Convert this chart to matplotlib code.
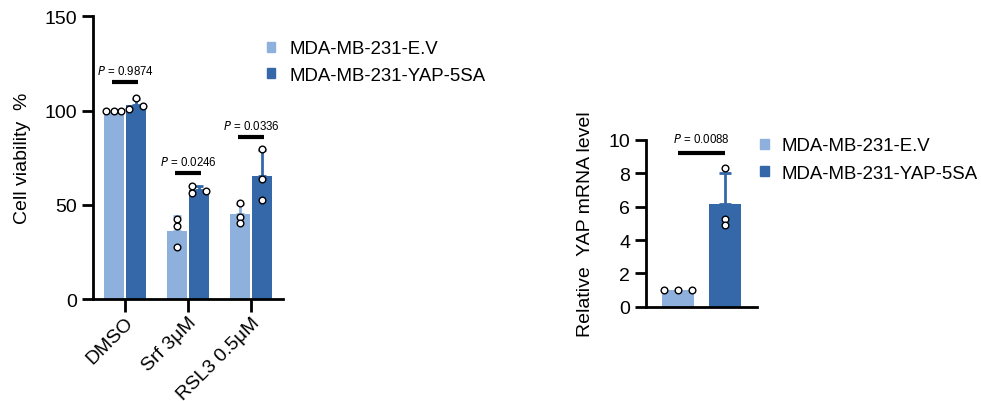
import matplotlib
matplotlib.use("Agg")
import matplotlib.pyplot as plt
import numpy as np
from matplotlib.patches import Patch

plt.rcParams['font.family'] = ['Liberation Sans', 'DejaVu Sans']

# ---------------- data ----------------
groups = ["DMSO", "Srf 3μM", "RSL3 0.5μM"]
series_names = ["MDA-MB-231-E.V", "MDA-MB-231-YAP-5SA"]
ev_points = [[100.0, 100.0, 100.0], [42.4, 38.6, 27.4], [51.1, 43.3, 40.2]]
yap_points = [[106.5, 100.8, 102.4], [60.1, 56.1, 57.3], [79.8, 63.5, 52.5]]
p_labels = ["0.9874", "0.0246", "0.0336"]
p_line_y = [115, 66.7, 86.1]

mrna_ev = [1.0, 1.0, 1.0]
mrna_yap = [8.32, 5.26, 4.9]
mrna_p = "0.0088"
mrna_line_y = 9.2

# ---------------- style ----------------
c_light = "#8EB0DD"
c_dark = "#3468A8"
lw = 2.0
fs = 14
fs_leg = 13.4

fig = plt.figure(figsize=(9.81, 4.02), dpi=100)

def style_axes(ax):
    for s in ["top", "right"]:
        ax.spines[s].set_visible(False)
    for s in ["left", "bottom"]:
        ax.spines[s].set_linewidth(lw)
    ax.tick_params(width=lw, length=8, labelsize=fs, direction="out")

def draw_points(ax, x, vals, offs):
    ax.plot(np.array([x] * len(vals)) + np.array(offs), vals, "o", ms=4.8,
            mfc="white", mec="black", mew=1.0, zorder=5, clip_on=False)

# ---------- left chart ----------
ax1 = fig.add_axes([0.0948, 0.2537, 0.1937, 0.703])
style_axes(ax1)
x = np.arange(len(groups))
bw = 0.32
off = 0.175
ev_mean = [np.mean(v) for v in ev_points]
yap_mean = [np.mean(v) for v in yap_points]
ev_sd = [np.std(v, ddof=1) for v in ev_points]
yap_sd = [np.std(v, ddof=1) for v in yap_points]
ax1.bar(x - off, ev_mean, bw, color=c_light, zorder=2)
ax1.bar(x + off, yap_mean, bw, color=c_dark, zorder=2)
ax1.errorbar(x - off, ev_mean, yerr=[np.zeros(3), ev_sd], fmt="none", ecolor=c_light,
             elinewidth=2, capsize=3, capthick=2, zorder=3)
ax1.errorbar(x + off, yap_mean, yerr=[np.zeros(3), yap_sd], fmt="none", ecolor=c_dark,
             elinewidth=2, capsize=3, capthick=2, zorder=3)
ev_offs = [[-0.12, 0.0, 0.11], [0.0, 0.0, 0.0], [0.0, 0.0, 0.0]]
yap_offs = [[0.0, -0.11, 0.11], [-0.11, -0.11, 0.11], [0.0, 0.0, 0.0]]
for i in range(len(groups)):
    draw_points(ax1, x[i] - off, ev_points[i], ev_offs[i])
    draw_points(ax1, x[i] + off, yap_points[i], yap_offs[i])
    ax1.plot([x[i] - 0.2, x[i] + 0.2], [p_line_y[i]] * 2, color="black", lw=3,
             solid_capstyle="butt")
    ax1.text(x[i], p_line_y[i] + 2.6, r"$\it{P}$ = " + p_labels[i], ha="center",
             va="bottom", fontsize=8.3)
ax1.set_xlim(-0.508, 2.508)
ax1.set_ylim(0, 150)
ax1.set_yticks([0, 50, 100, 150])
ax1.set_xticks(x)
ax1.set_xticklabels(groups, rotation=45, ha="right", rotation_mode="anchor")
ax1.tick_params(axis="x", length=9, pad=1.5)
ax1.set_ylabel("Cell viability  %", fontsize=fs, labelpad=10)

handles = [Patch(color=c_light), Patch(color=c_dark)]
fig.legend(handles, series_names, loc="upper left", bbox_to_anchor=(0.272, 0.897),
           frameon=False, fontsize=fs_leg, handlelength=0.45, handleheight=0.45,
           handletextpad=0.75, labelspacing=0.5, borderaxespad=0, borderpad=0)

# ---------- right chart ----------
ax2 = fig.add_axes([0.6585, 0.2346, 0.1131, 0.4147])
style_axes(ax2)
xm = np.array([0, 1])
means = [np.mean(mrna_ev), np.mean(mrna_yap)]
sds = [np.std(mrna_ev, ddof=1), np.std(mrna_yap, ddof=1)]
ax2.bar(xm, means, 0.68, color=[c_light, c_dark], zorder=2)
ax2.errorbar([1], [means[1]], yerr=[[0], [sds[1]]], fmt="none", ecolor=c_dark,
             elinewidth=2, capsize=4, capthick=2, zorder=3)
draw_points(ax2, 0, mrna_ev, [-0.3, 0.0, 0.3])
draw_points(ax2, 1, mrna_yap, [0.0, 0.0, 0.0])
ax2.plot([0, 1], [mrna_line_y] * 2, color="black", lw=3, solid_capstyle="butt")
ax2.text(0.5, mrna_line_y + 0.5, r"$\it{P}$ = " + mrna_p, ha="center", va="bottom",
         fontsize=8.3)
ax2.set_xlim(-0.681, 1.681)
ax2.set_ylim(0, 10)
ax2.set_yticks([0, 2, 4, 6, 8, 10])
ax2.set_xticks([])
ax2.set_ylabel("Relative  YAP mRNA level", fontsize=fs, labelpad=10)

fig.legend(handles, series_names, loc="upper left", bbox_to_anchor=(0.775, 0.656),
           frameon=False, fontsize=fs_leg, handlelength=0.45, handleheight=0.45,
           handletextpad=0.7, labelspacing=0.55, borderaxespad=0, borderpad=0)

fig.savefig("out.png", dpi=100)
